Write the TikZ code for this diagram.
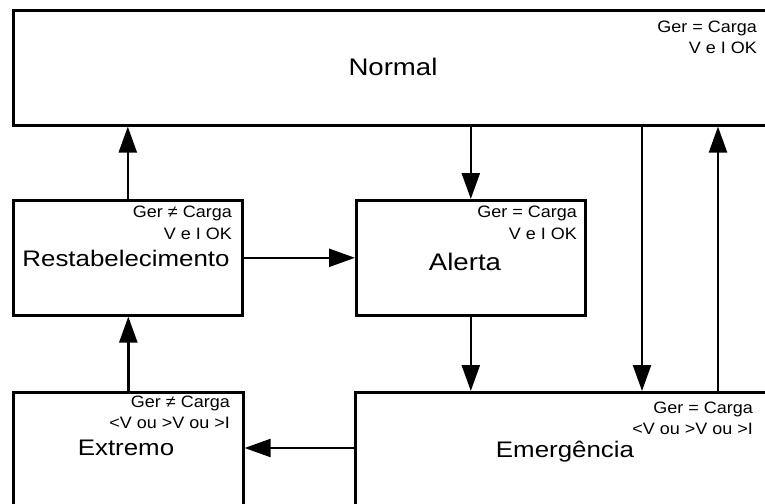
\documentclass[tikz,border=0pt]{standalone}
\usepackage{fontspec}
\setmainfont[FakeStretch=1.15]{Liberation Sans}
\newfontfamily\smallfam[FakeStretch=1.09]{Liberation Sans}
\usetikzlibrary{arrows.meta}
\begin{document}
\begin{tikzpicture}[x=1pt,y=-1pt,
  box/.style={draw, line width=2.6pt, rectangle, anchor=north west, inner sep=0pt},
  arr/.style={line width=2.4pt, -{Triangle[length=26pt,width=18pt]}},
  big/.style={font=\fontsize{22.5}{24}\selectfont},
  huge/.style={font=\fontsize{24}{26}\selectfont},
  cond/.style={font=\smallfam\fontsize{16.5}{18}\selectfont, anchor=east, inner sep=0pt}]
\useasboundingbox (0,0) rectangle (765,503);
\clip (0,0) rectangle (765,503);
\fill[white] (0,0) rectangle (765,503);
% boxes
\node[box, minimum width=800pt, minimum height=115pt] (normal) at (12,9) {};
\node[box, minimum width=229pt, minimum height=115pt] (restab) at (12,199) {};
\node[box, minimum width=229pt, minimum height=115pt] (alerta) at (355,199) {};
\node[box, minimum width=230pt, minimum height=160pt] (extremo) at (12,391) {};
\node[box, minimum width=460pt, minimum height=160pt] (emerg) at (354,391) {};
% labels
\node[huge] (tnormal) at (393,67) {Normal};
\node[cond] (cn1) at (757,28) {Ger = Carga};
\node[cond] (cn2) at (757,48) {V e I OK};
\node[big] (trestab) at (126,258) {Restabelecimento};
\node[cond] (cr1) at (232,213) {Ger ≠ Carga};
\node[cond] (cr2) at (232,234) {V e I OK};
\node[huge] (talerta) at (465,262) {Alerta};
\node[cond] (ca1) at (577,213) {Ger = Carga};
\node[cond] (ca2) at (577,234) {V e I OK};
\node[big] (textremo) at (126,448) {Extremo};
\node[cond] (ce1) at (230,403) {Ger ≠ Carga};
\node[cond] (ce2) at (230,423) {<V ou >V ou >I};
\node[big] (temerg) at (565,452) {Emergência};
\node[cond] (cm1) at (753,409) {Ger = Carga};
\node[cond] (cm2) at (753,429) {<V ou >V ou >I};
% helper coordinates
\coordinate (p1) at (642,300);
\coordinate (p2) at (718,300);
\coordinate (p3) at (300,448);
% connectors
\draw[arr] (restab.north) -- (restab.north |- normal.south);
\draw[arr] (alerta.north |- normal.south) -- (alerta.north);
\draw[arr] (normal.south -| p1) -- (emerg.north -| p1);
\draw[arr] (emerg.north -| p2) -- (normal.south -| p2);
\draw[arr] (restab.east) -- (restab.east -| alerta.west);
\draw[arr] (alerta.south) -- (alerta.south |- emerg.north);
\draw[arr] (extremo.north) -- (extremo.north |- restab.south);
\draw[arr] (emerg.west |- p3) -- (extremo.east |- p3);
\end{tikzpicture}
\end{document}
